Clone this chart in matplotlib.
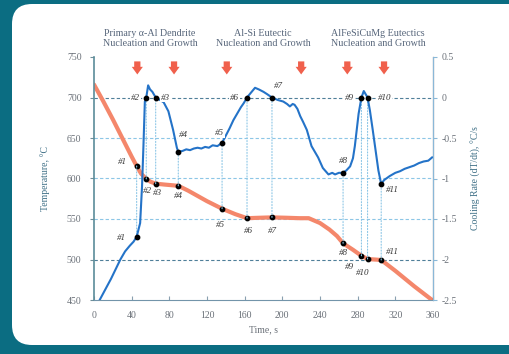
import matplotlib
matplotlib.use("Agg")
import matplotlib.pyplot as plt
from matplotlib.patches import FancyBboxPatch, ConnectionPatch

# temperature curve, deg C (left axis)
time_temp = [0, 10, 20, 30, 40, 45.3, 50, 55.5, 60, 65.5, 75, 89.5, 100, 110, 120,
             136, 150, 162.5, 175, 189, 205, 218, 228, 240, 250, 258, 264.5, 275,
             284, 290.5, 298, 305, 320, 340, 359]
temp = [716, 695, 673, 650, 627, 615.4, 606, 599.5, 596, 593.6, 592.5, 591, 585, 578.5, 572,
        562.7, 556, 551, 551.5, 552, 551.5, 551, 551, 545, 537, 529, 520, 512,
        504.6, 500.6, 500, 499.4, 486, 467, 450]

# cooling rate curve, deg C/s (right axis)
time_cr = [6, 12, 18, 23, 28, 33, 38, 42, 45.3, 49, 51, 52.5, 54, 55.5, 57.5, 59.5, 62, 65.5,
           70, 74, 79, 84, 88, 89.5, 94, 98, 102, 106, 110, 114, 118, 122, 126, 131, 136,
           140, 144, 148, 152, 156, 159, 162.5, 166, 171, 175, 180, 184, 189, 195, 201, 205,
           208, 211, 213, 216, 219, 222, 226, 231, 234, 238, 243, 249, 253, 256, 260, 264.5,
           268, 272, 275, 277, 279, 281, 284, 286.5, 290.5, 293, 296, 299, 302, 305, 308,
           314, 320, 325, 330, 335, 340, 345, 350, 355, 359]
cr = [-2.5, -2.37, -2.24, -2.12, -2.0, -1.9, -1.83, -1.78, -1.72, -1.55, -1.1, -0.6, -0.05, 0,
      0.15, 0.1, 0.07, 0, -0.03, -0.06, -0.17, -0.4, -0.62, -0.67, -0.66, -0.64, -0.65,
      -0.63, -0.62, -0.63, -0.61, -0.62, -0.59, -0.6, -0.56, -0.47, -0.38, -0.28, -0.2,
      -0.12, -0.07, 0, 0.05, 0.12, 0.1, 0.07, 0.04, 0, -0.03, -0.05, -0.08, -0.11, -0.08,
      -0.09, -0.14, -0.23, -0.3, -0.4, -0.6, -0.66, -0.74, -0.87, -0.95, -0.93, -0.95,
      -0.93, -0.93, -0.9, -0.85, -0.75, -0.6, -0.4, -0.2, 0, 0.08, 0, -0.16, -0.4, -0.65,
      -0.9, -1.07, -1.02, -0.97, -0.93, -0.91, -0.88, -0.86, -0.84, -0.81, -0.79, -0.78,
      -0.74]

# characteristic points #1..#11
mark_labels = ["#1", "#2", "#3", "#4", "#5", "#6", "#7", "#8", "#9", "#10", "#11"]
mark_time = [45.3, 55.5, 65.5, 89.5, 136, 162.5, 189, 264.5, 284, 290.5, 305]
mark_temp = [615.4, 599.5, 593.6, 591, 562.7, 551, 552, 520, 504.6, 500.6, 499.4]
mark_cr = [-1.72, 0, 0, -0.67, -0.56, 0, 0, -0.93, 0, 0, -1.07]

# stage headings and arrow positions
stage_titles = ["Primary \u03b1-Al Dendrite\nNucleation and Growth",
                "Al-Si Eutectic\nNucleation and Growth",
                "AlFeSiCuMg Eutectics\nNucleation and Growth"]
stage_x = [59.5, 179.5, 301.5]
arrow_time = [46, 85, 141, 220, 269, 308]

# label offsets (points)
temp_off = [(-10, 3), (0.5, -8.5), (1.5, -7), (0, -7), (-1.5, -12), (1, -9.5), (0, -9.5),
            (0, -7), (-8.5, -8), (-3.5, -10), (8, 6)]
cr_off = [(-11, -1), (-8, 0), (7, 0), (3.5, 12), (-2, 7), (-9, 0), (5, 8), (0, 8.5),
          (-8.5, 0), (12, 0), (8, -4)]

SERIF = "Liberation Serif"
ORANGE = "#f4876b"
BLUE = "#2473c8"
GRID = "#8cc6e6"
TXT = "#6a7078"

fig = plt.figure(figsize=(5.09, 3.54), dpi=100)
fig.patch.set_facecolor("#0b6d82")

bg = fig.add_axes([0, 0, 1, 1])
bg.set_xlim(0, 509)
bg.set_ylim(354, 0)
bg.axis("off")
bg.add_patch(FancyBboxPatch((12, 4), 530, 341, boxstyle="round,pad=0,rounding_size=20",
                            facecolor="white", edgecolor="none"))

ax = fig.add_axes([94 / 509, 54 / 354, 339 / 509, 243 / 354])
ax2 = ax.twinx()

ax.set_xlim(0, 360)
ax.set_ylim(450, 750)
ax2.set_ylim(-2.5, 0.5)

for v in [650, 600, 550]:
    ax.axhline(v, color=GRID, lw=0.8, ls=(0, (3, 2)), zorder=1)
for v in [700, 500]:
    ax.axhline(v, color="#4f7f99", lw=0.8, ls=(0, (3, 2)), zorder=1)

for t, tv, cv in zip(mark_time, mark_temp, mark_cr):
    con = ConnectionPatch(xyA=(t, tv), coordsA=ax.transData, xyB=(t, cv), coordsB=ax2.transData,
                          color=GRID, lw=0.8, ls=":", zorder=1)
    ax2.add_artist(con)

ax.plot(time_temp, temp, color=ORANGE, lw=3, solid_capstyle="round", zorder=2)
ax2.plot(time_cr, cr, color=BLUE, lw=1.5, zorder=3)
ax.scatter(mark_time, mark_temp, s=10, color="black", zorder=4)
ax2.scatter(mark_time, mark_cr, s=10, color="black", zorder=4)

for lab, t, tv, off in zip(mark_labels, mark_time, mark_temp, temp_off):
    ax.annotate(lab, (t, tv), xytext=off, textcoords="offset points", ha="center", va="center",
                fontsize=6.5, style="italic", family=SERIF, color="#333333", zorder=5)
for lab, t, cv, off in zip(mark_labels, mark_time, mark_cr, cr_off):
    ax2.annotate(lab, (t, cv), xytext=off, textcoords="offset points", ha="center", va="center",
                 fontsize=6.5, style="italic", family=SERIF, color="#333333", zorder=5,
                 bbox=dict(boxstyle="square,pad=0.1", fc="white", ec="none"))

for t in arrow_time:
    ax.annotate("", xy=(t, 725), xytext=(t, 748),
                arrowprops=dict(arrowstyle="simple,head_width=0.8,head_length=0.55,tail_width=0.45",
                                color="#f0604c", lw=0, mutation_scale=10), zorder=5)

for x, s in zip(stage_x, stage_titles):
    ax.text(x, 1.076, s, transform=ax.get_xaxis_transform(), ha="center", va="center",
            fontsize=7.2, family=SERIF, color="#56657a", linespacing=1.15)

ax.set_xticks(range(0, 361, 40))
ax.set_yticks(range(450, 751, 50))
ax2.set_yticks([0.5, 0, -0.5, -1, -1.5, -2, -2.5])
ax2.set_yticklabels(["0.5", "0", "-0.5", "-1", "-1.5", "-2", "-2.5"])

ax.tick_params(axis="x", direction="in", length=3, colors="#8aa0b0", labelcolor=TXT,
               labelsize=7, pad=8)
ax.tick_params(axis="y", direction="out", length=3, colors="#6f8f9a", labelcolor=TXT,
               labelsize=7, pad=6)
ax2.tick_params(axis="y", direction="out", length=3, colors="#8ab8d8", labelcolor=TXT,
                labelsize=7, pad=3)
for lab in ax.get_xticklabels() + ax.get_yticklabels() + ax2.get_yticklabels():
    lab.set_family(SERIF)

for a in (ax, ax2):
    a.spines["top"].set_visible(False)
ax.spines["left"].set_color("#5b8c99")
ax.spines["left"].set_linewidth(1.2)
ax.spines["bottom"].set_color("#7394aa")
ax2.spines["right"].set_color("#8ab8d8")
ax2.spines["left"].set_visible(False)
ax2.spines["bottom"].set_visible(False)

ax.set_xlabel("Time, s", fontsize=7, family=SERIF, color=TXT, labelpad=4)
ax.set_ylabel("Temperature, \u00b0C", fontsize=7, family=SERIF, color="#3e6f86", labelpad=12)
ax2.set_ylabel("Cooling Rate (dT/dt), \u00b0C/s", fontsize=7, family=SERIF, color="#3e6f86",
               labelpad=10)

fig.savefig("out.png", dpi=100, facecolor=fig.get_facecolor())
